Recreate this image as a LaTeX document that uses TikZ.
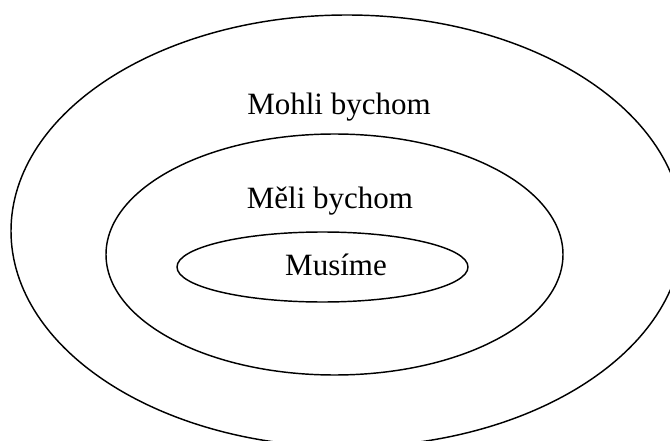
\documentclass[tikz,border=0pt]{standalone}
\usepackage{fontspec}
\setmainfont{Liberation Serif}
\usepackage{tikz}
\usetikzlibrary{shapes.geometric}
\tikzset{
  ring/.style={draw=black,ellipse,line width=1.45pt,inner sep=0pt},
  ringlabel/.style={font=\fontsize{31}{31}\selectfont,inner sep=0pt,anchor=base}
}
\begin{document}
\begin{tikzpicture}[x=1pt,y=-1pt]
  \useasboundingbox (0,0) rectangle (670,441);
  \clip (0,0) rectangle (670,441);
  \node[ring,minimum width=672pt,minimum height=432pt] (outer) at (347,231) {};
  \node[ring,minimum width=457pt,minimum height=241pt] (middle) at (334.5,254.5) {};
  \node[ring,minimum width=291pt,minimum height=70pt] (inner) at (322.5,267) {};

  \node[ringlabel] (could) at (339,115) {Mohli bychom};
  \node[ringlabel] (should) at (330,208) {Měli bychom};
  \node[ringlabel] (must) at (336,275) {Musíme};
\end{tikzpicture}
\end{document}
